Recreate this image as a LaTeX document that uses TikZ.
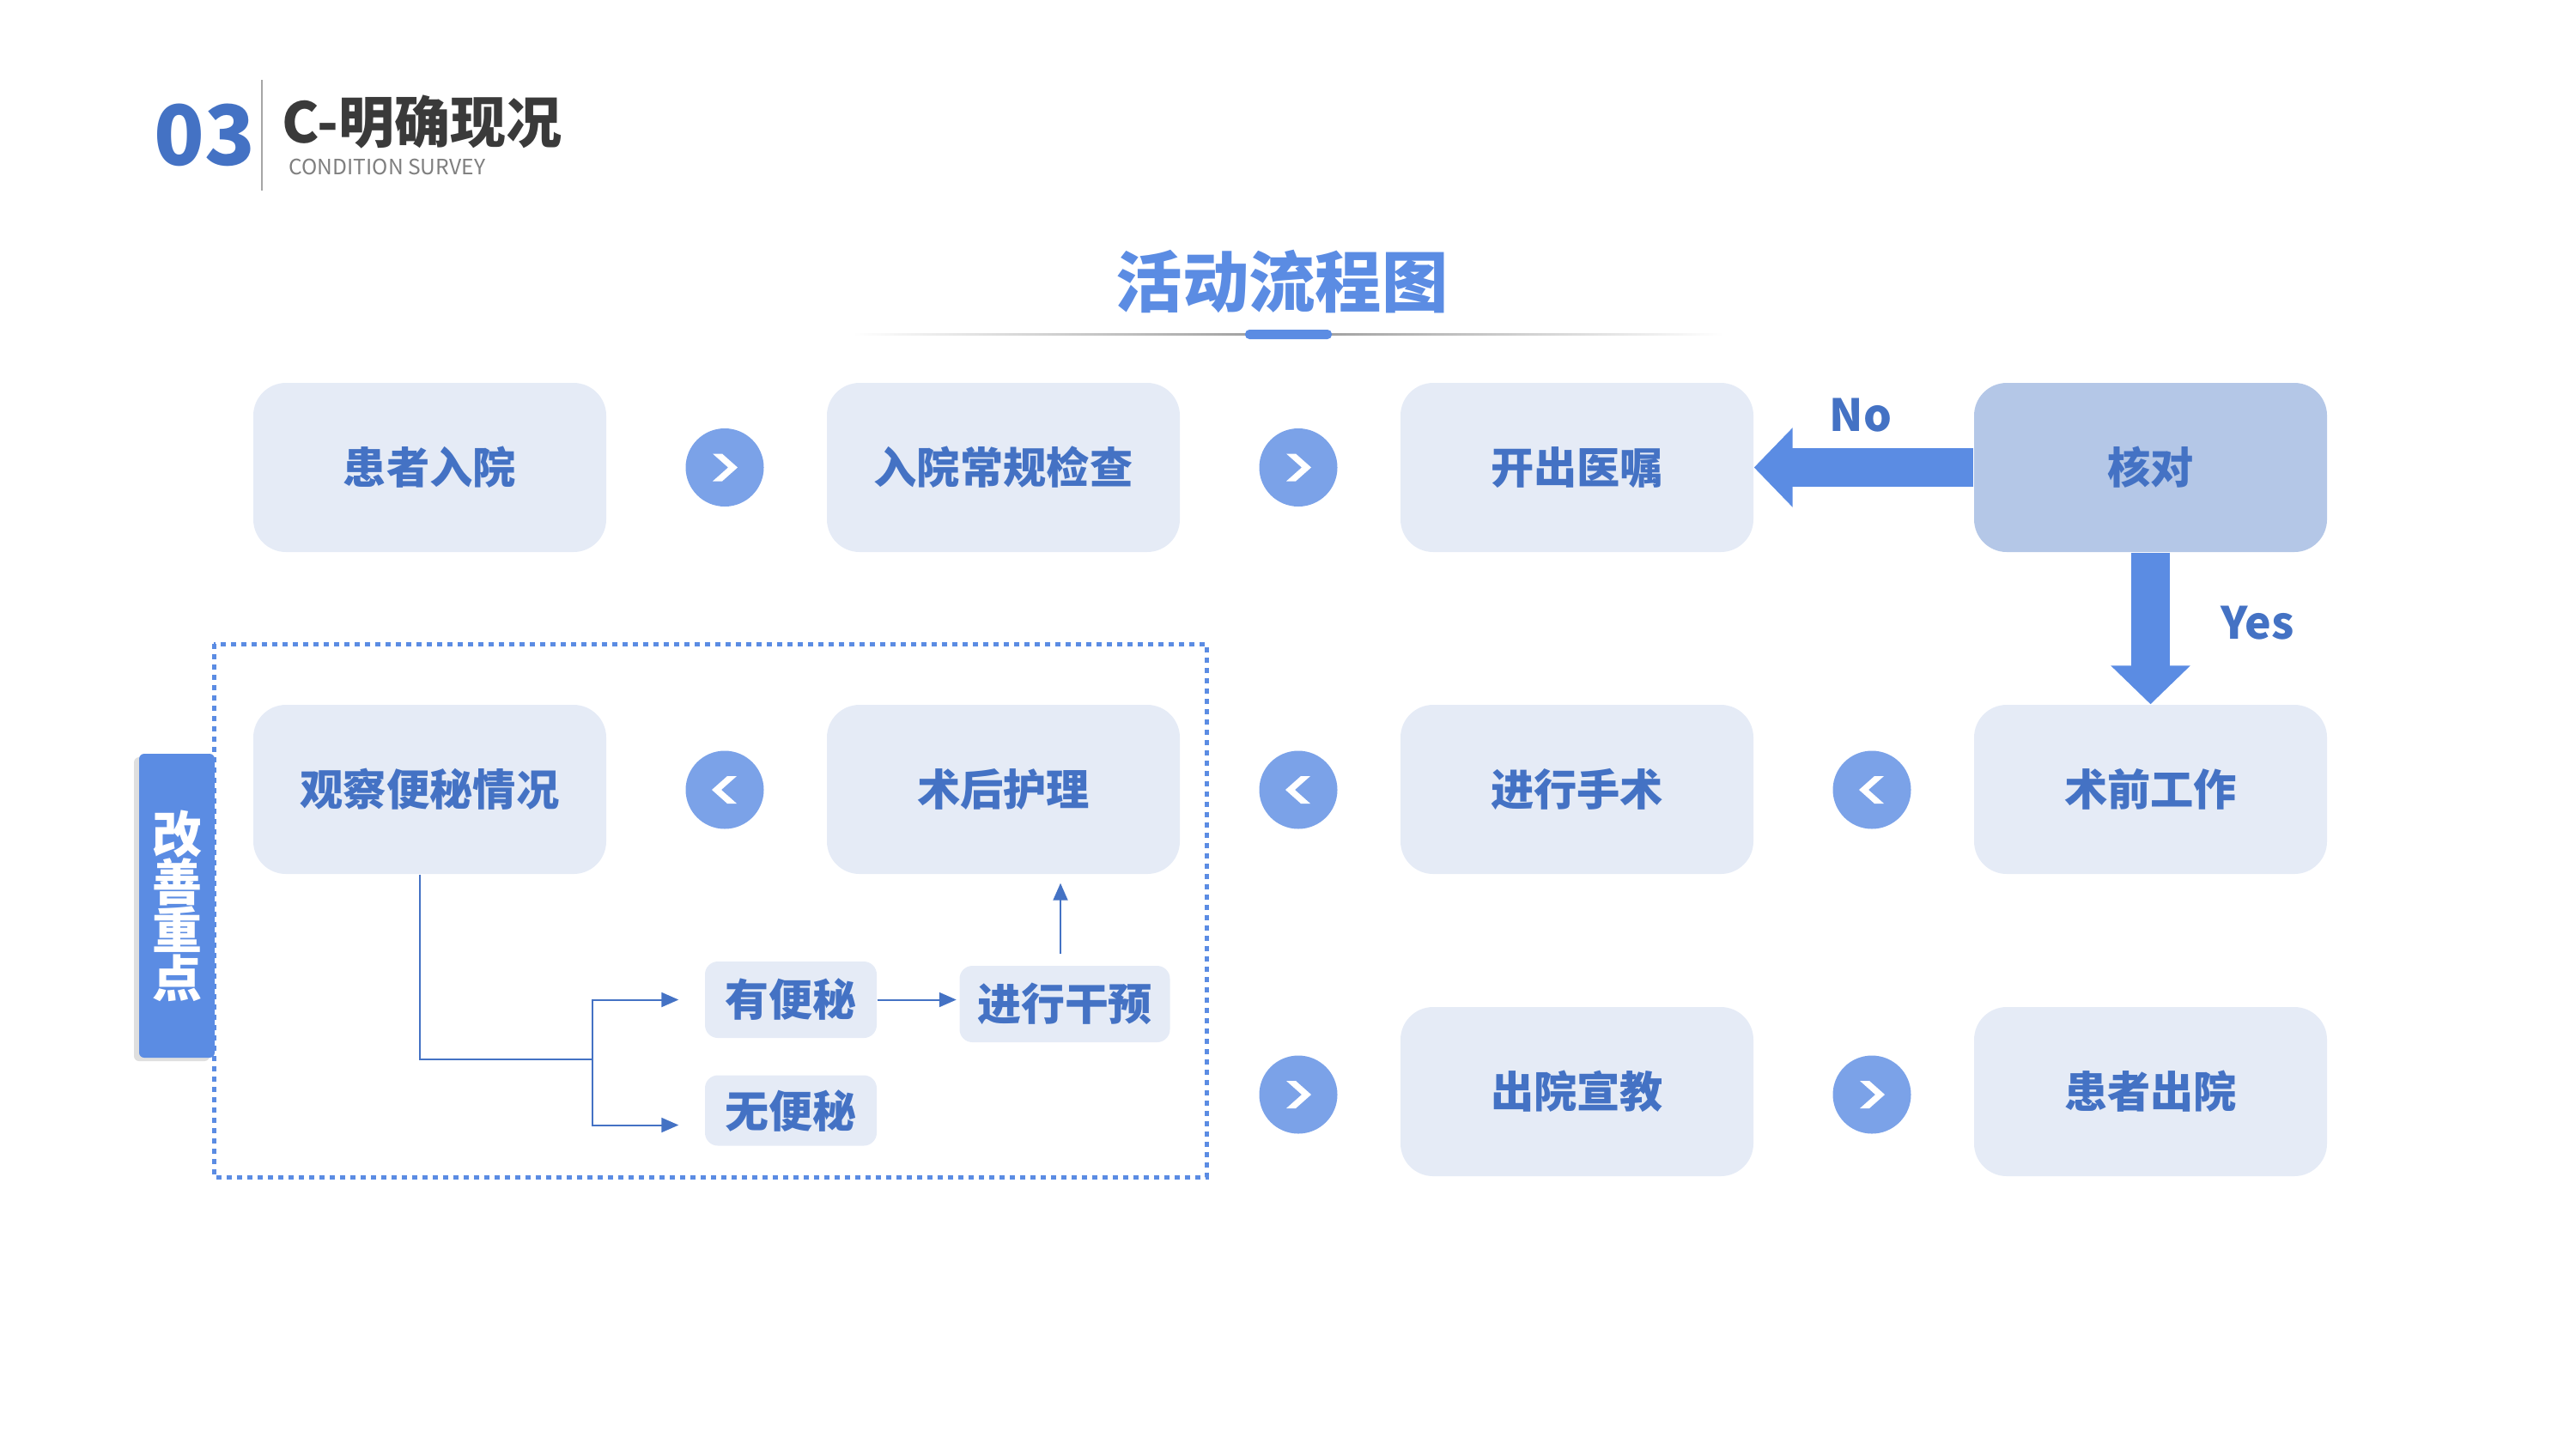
\documentclass[tikz,border=0pt]{standalone}
\usepackage{fontspec}
\setmainfont{Noto Sans CJK SC}
\usetikzlibrary{positioning,arrows.meta,shadows}
\definecolor{kblue}{HTML}{4472C4}
\definecolor{karrow}{HTML}{5B8CE3}
\definecolor{kcirc}{HTML}{7BA2E8}
\definecolor{klight}{HTML}{E5EBF6}
\definecolor{kmid}{HTML}{B4C7E7}
\definecolor{kdark}{HTML}{3A3A3A}
\definecolor{kgray}{HTML}{7F7F7F}
\tikzset{
  kbox/.style={fill=klight,rounded corners=0.38cm,minimum width=4.11cm,minimum height=1.97cm,text=kblue,font=\fontsize{14.3}{17}\selectfont\bfseries},
  ksub/.style={fill=klight,rounded corners=0.15cm,minimum height=0.89cm,text=kblue,font=\fontsize{14.5}{17}\selectfont\bfseries},
  kdot/.style={circle,fill=kcirc,minimum size=0.91cm,inner sep=0pt},
  kright/.style={kdot,path picture={\fill[white,shift={(path picture bounding box.center)}] (-0.14,0.16)--(-0.03,0.16)--(0.15,0)--(-0.03,-0.16)--(-0.14,-0.16)--(0.04,0)--cycle;}},
  kleft/.style={kdot,path picture={\fill[white,shift={(path picture bounding box.center)}] (0.14,0.16)--(0.03,0.16)--(-0.15,0)--(0.03,-0.16)--(0.14,-0.16)--(-0.04,0)--cycle;}},
  kbig/.style={color=karrow,line width=0.45cm,-{Triangle[length=0.45cm,width=0.9cm]}},
  kthin/.style={kblue,line width=0.02cm},
  ktip/.style={kthin,-{Triangle[length=0.2cm,width=0.17cm]}},
}
\begin{document}
\begin{tikzpicture}
\pgfmathsetmacro{\kxstep}{6.68}
\pgfmathsetmacro{\kx}{5.005}
\pgfmathsetmacro{\kdotx}{8.44}
\useasboundingbox (0,0) rectangle (30,-16.88);
% header
\node[text=kblue,font=\fontsize{27.5}{32}\selectfont\bfseries] (num) at (2.38,-1.57) {03};
\draw[color=gray!70,line width=0.02cm] (3.05,-0.93) -- (3.05,-2.22);
\node[anchor=base west,inner sep=0pt,text depth=0pt,text=kdark,font=\fontsize{18.5}{22}\selectfont\bfseries] (head) at (3.28,-1.667) {C-明确现况};
\node[anchor=base west,inner sep=0pt,text depth=0pt,text=kgray,font=\fontsize{7}{9}\selectfont] (sub) at (3.36,-2.03) {CONDITION SURVEY};
% title
\node[text=karrow,font=\fontsize{22}{26}\selectfont\bfseries] (title) at (14.93,-3.28) {活动流程图};
\shade[left color=white,right color=gray!80] (9.93,-3.885) rectangle (15,-3.905);
\shade[left color=gray!80,right color=white] (15,-3.885) rectangle (20.07,-3.905);
\fill[karrow,rounded corners=0.05cm] (14.5,-3.84) rectangle (15.51,-3.95);
% improvement area
\node[fill=karrow,rounded corners=0.06cm,minimum width=0.88cm,minimum height=3.54cm,align=center,text=white,
  font=\fontsize{16.5}{15.9}\selectfont\bfseries,drop shadow={shadow xshift=-0.06cm,shadow yshift=-0.04cm,opacity=0.25}] (tab) at (2.06,-10.55) {改\\善\\重\\点};
\draw[karrow,line width=0.05cm,dash pattern=on 0.06cm off 0.06cm] (2.49,-7.5) rectangle (14.05,-13.71);
% row 1
\node[kbox] (adm) at (\kx,-5.445) {患者入院};
\node[kbox] (exam) at (\kx+\kxstep,-5.445) {入院常规检查};
\node[kbox] (ord) at (\kx+2*\kxstep,-5.445) {开出医嘱};
\node[kbox,fill=kmid] (vrf) at (\kx+3*\kxstep,-5.445) {核对};
% row 2
\node[kbox] (obs) at (\kx,-9.195) {观察便秘情况};
\node[kbox] (post) at (\kx+\kxstep,-9.195) {术后护理};
\node[kbox] (op) at (\kx+2*\kxstep,-9.195) {进行手术};
\node[kbox] (pre) at (\kx+3*\kxstep,-9.195) {术前工作};
% row 3
\node[kbox] (edu) at (\kx+2*\kxstep,-12.715) {出院宣教};
\node[kbox] (dis) at (\kx+3*\kxstep,-12.715) {患者出院};
% circles
\foreach \i in {0,1} \node[kright] (kr\i) at (\kdotx+\i*\kxstep,-5.445) {};
\foreach \i in {0,1,2} \node[kleft] (kl\i) at (\kdotx+\i*\kxstep,-9.2) {};
\foreach \i in {1,2} \node[kright] (kd\i) at (\kdotx+\i*\kxstep,-12.75) {};
% decision
\draw[kbig] (vrf.west) -- (ord.east);
\draw[kbig] (vrf.south) -- (pre.north);
\node[text=kblue,font=\fontsize{14.7}{17}\selectfont\bfseries] (no) at (21.67,-4.84) {No};
\node[text=kblue,font=\fontsize{14.7}{17}\selectfont\bfseries] (yes) at (26.29,-7.26) {Yes};
% constipation branch
\node[ksub,minimum width=2.0cm] (has) at (9.21,-11.645) {有便秘};
\node[ksub,minimum width=2.0cm,minimum height=0.82cm] (non) at (9.21,-12.935) {无便秘};
\node[ksub,minimum width=2.45cm] (int) at (12.4,-11.695) {进行干预};
\coordinate (ksplit) at (6.9,-12.34);
\draw[kthin] ([xshift=-0.12cm]obs.south) |- (ksplit);
\draw[ktip] (ksplit) |- ([xshift=-0.3cm]has.west);
\draw[ktip] (ksplit) |- ([xshift=-0.3cm,yshift=-0.17cm]non.west);
\draw[ktip] (has.east) -- ([xshift=-0.03cm]has.east -| int.west);
\draw[ktip] ([xshift=-0.05cm,yshift=0.13cm]int.north) -- ([xshift=-0.05cm,yshift=-0.1cm]int.north |- post.south);
\end{tikzpicture}
\end{document}
